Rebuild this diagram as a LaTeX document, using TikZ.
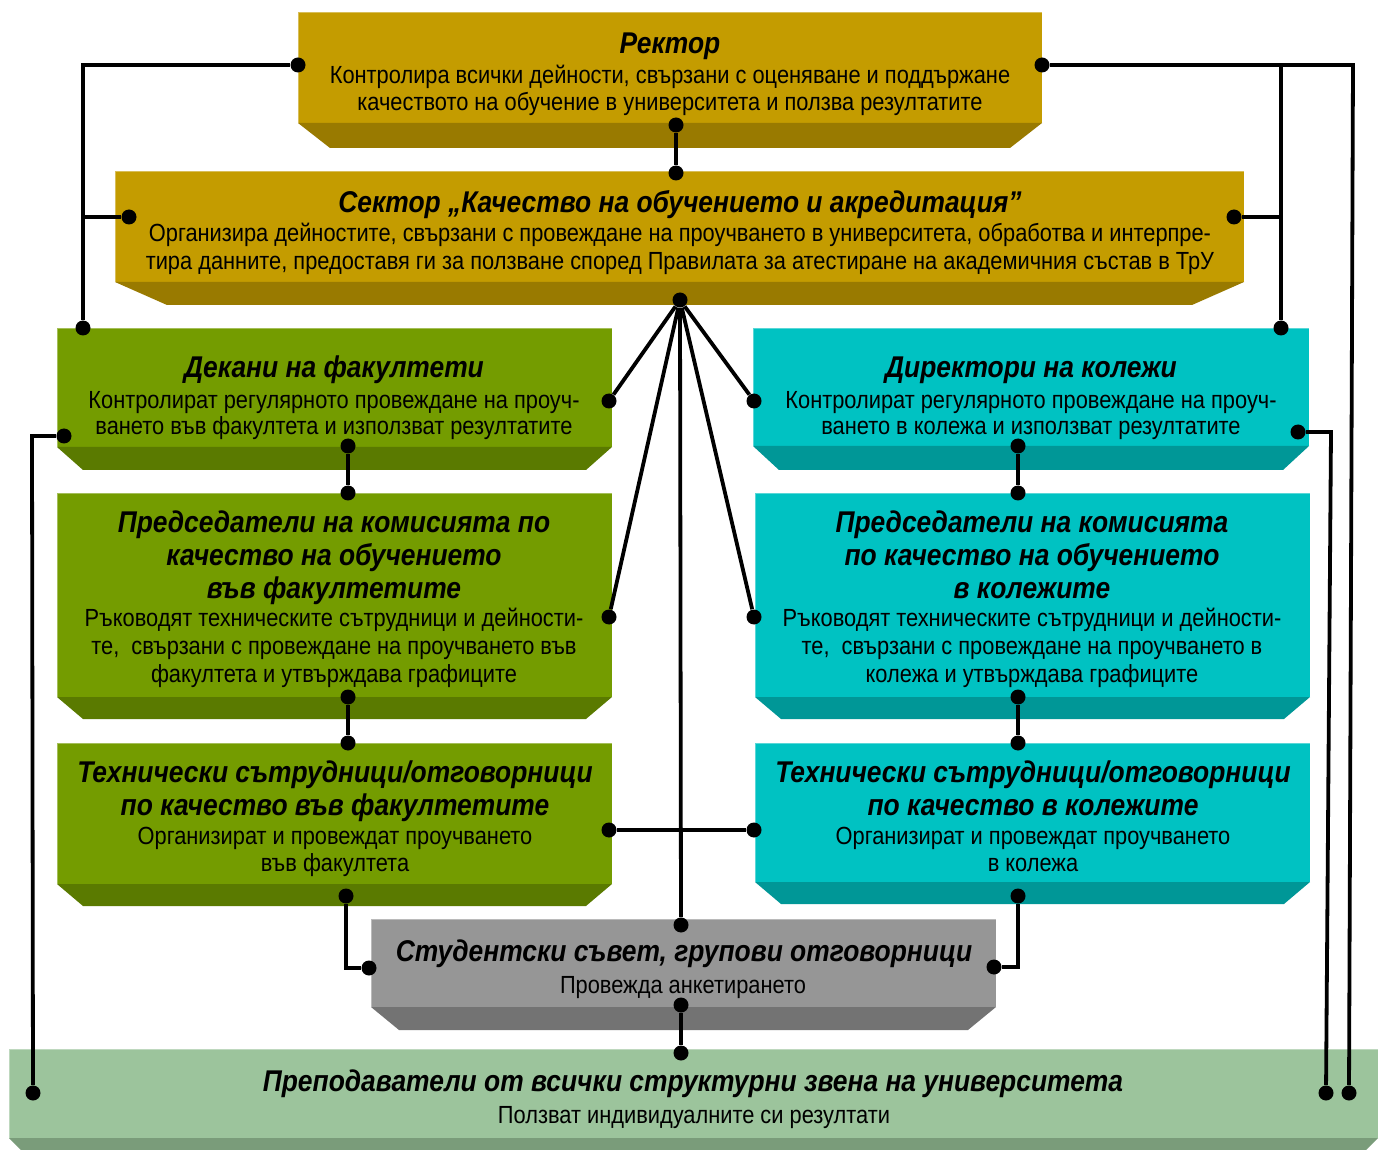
\documentclass[tikz,border=0pt]{standalone}
\usepackage{fontspec}
\setmainfont{Liberation Sans}[FakeStretch=0.88]
\definecolor{goldF}{HTML}{C49C00}
\definecolor{goldB}{HTML}{997A00}
\definecolor{grnF}{HTML}{749C00}
\definecolor{grnB}{HTML}{5A7A00}
\definecolor{cyF}{HTML}{00C2C2}
\definecolor{cyB}{HTML}{009797}
\definecolor{gryF}{HTML}{969696}
\definecolor{gryB}{HTML}{737373}
\definecolor{tchF}{HTML}{9CC49C}
\definecolor{tchB}{HTML}{7A9C7A}
\newcommand{\bevbox}[8]{%
  \fill[#1] (#3,#5) rectangle (#4,#6);
  \fill[#2] (#3,#6) -- (#4,#6) -- (#4-#8,#7) -- (#3+#8,#7) -- cycle;
  \draw[white,opacity=0.35,line width=0.8pt] (#3,#6) -- (#3,#5) -- (#4,#5);}
\begin{document}
\begin{tikzpicture}[x=0.5pt,y=-0.5pt,
  ttl/.style={font=\bfseries\itshape\fontsize{15}{17}\selectfont, anchor=base, inner sep=0pt, yshift=-1pt},
  bdy/.style={font=\fontsize{12.4}{14}\selectfont, anchor=base, inner sep=0pt, yshift=-1pt},
  dot/.style={circle, fill=black, inner sep=0pt, minimum size=7.5pt},
  conn/.style={draw=black, line width=1.9pt}]
\useasboundingbox (0,0) rectangle (1383,1150);
\fill[white] (0,0) rectangle (1383,1150);
% boxes
\bevbox{goldF}{goldB}{298}{1042}{12}{123}{148}{32}
\bevbox{goldF}{goldB}{115}{1244}{171}{282}{305}{52}
\bevbox{grnF}{grnB}{57}{612}{328}{447}{470}{26}
\bevbox{grnF}{grnB}{57}{612}{493}{697}{719}{26}
\bevbox{grnF}{grnB}{57}{612}{743}{884}{906}{26}
\bevbox{cyF}{cyB}{753}{1309}{328}{446}{470}{26}
\bevbox{cyF}{cyB}{755}{1310}{493}{697}{719}{26}
\bevbox{cyF}{cyB}{755}{1310}{743}{882}{904}{26}
\bevbox{gryF}{gryB}{371}{996}{919}{1007}{1030}{28}
\bevbox{tchF}{tchB}{9}{1378}{1049}{1138}{1152}{14}
% dots
\node[dot] (rL) at (298,65) {};
\node[dot] (rR) at (1042,65) {};
\node[dot] (rB) at (676,125) {};
\node[dot] (sT) at (676,173) {};
\node[dot] (sL) at (129,217) {};
\node[dot] (sR) at (1234,217) {};
\node[dot] (sB) at (680,300) {};
\node[dot] (dT) at (83,328) {};
\node[dot] (dR) at (609,401) {};
\node[dot] (dL) at (64,436) {};
\node[dot] (dB) at (348,446) {};
\node[dot] (cfT) at (348,493) {};
\node[dot] (cfR) at (609,617) {};
\node[dot] (cfB) at (348,697) {};
\node[dot] (tfT) at (348,743) {};
\node[dot] (tfR) at (609,830) {};
\node[dot] (tfB) at (346,896) {};
\node[dot] (drT) at (1281,328) {};
\node[dot] (drL) at (754,401) {};
\node[dot] (drR) at (1298,432) {};
\node[dot] (drB) at (1018,446) {};
\node[dot] (ccT) at (1018,493) {};
\node[dot] (ccL) at (754,617) {};
\node[dot] (ccB) at (1018,697) {};
\node[dot] (tcT) at (1018,743) {};
\node[dot] (tcL) at (754,830) {};
\node[dot] (tcB) at (1018,896) {};
\node[dot] (stT) at (681,925) {};
\node[dot] (stL) at (369,968) {};
\node[dot] (stR) at (994,967) {};
\node[dot] (stB) at (681,1005) {};
\node[dot] (tT) at (681,1053) {};
\node[dot] (tL) at (33,1093) {};
\node[dot] (tR1) at (1326,1093) {};
\node[dot] (tR2) at (1349,1093) {};
\coordinate (jL) at (83,217);
\coordinate (cR) at (1353,65);
\coordinate (jR1) at (1281,65);
\coordinate (jR2) at (1281,217);
\coordinate (cD) at (1331,432);
\coordinate (cL) at (32,436);
% connectors
\draw[conn] (rL) -| (dT);
\draw[conn] (sL) -- (jL);
\draw[conn] (rR) -- (cR) -- (tR2);
\draw[conn] (jR1) -- (drT);
\draw[conn] (sR) -- (jR2);
\draw[conn] (drR) -- (cD) -- (tR1);
\draw[conn] (dL) -- (cL) -- (tL);
\draw[conn] (rB) -- (sT);
\draw[conn] (sB) -- (dR);
\draw[conn] (sB) -- (cfR);
\draw[conn] (sB) -- (drL);
\draw[conn] (sB) -- (ccL);
\draw[conn] (sB) -- (stT);
\draw[conn] (dB) -- (cfT);
\draw[conn] (cfB) -- (tfT);
\draw[conn] (drB) -- (ccT);
\draw[conn] (ccB) -- (tcT);
\draw[conn] (tfR) -- (tcL);
\draw[conn] (tfB) |- (stL);
\draw[conn] (stR) -| (tcB);
\draw[conn] (stB) -- (tT);
% texts
\node[ttl] (rt) at (670,52) {Ректор};
\node[bdy] (rb1) at (670,82) {Контролира всички дейности, свързани с оценяване и поддържане};
\node[bdy] (rb2) at (670,109) {качеството на обучение в университета и ползва резултатите};
\node[ttl] (st) at (680,211) {Сектор „Качество на обучението и акредитация”};
\node[bdy] (sb1) at (680,240) {Организира дейностите, свързани с провеждане на проучването в университета, обработва и интерпре-};
\node[bdy] (sb2) at (680,268) {тира данните, предоставя ги за ползване според Правилата за атестиране на академичния състав в ТрУ};
\node[ttl] (dt) at (334,376) {Декани на факултети};
\node[bdy] (db1) at (334,407) {Контролират регулярното провеждане на проуч-};
\node[bdy] (db2) at (334,433) {ването във факултета и използват резултатите};
\node[ttl] (cft1) at (334,530) {Председатели на комисията по};
\node[ttl] (cft2) at (334,563) {качество на обучението};
\node[ttl] (cft3) at (334,596) {във факултетите};
\node[bdy] (cfb1) at (334,624) {Ръководят техническите сътрудници и дейности-};
\node[bdy] (cfb2) at (334,652) {те,\ \ свързани с провеждане на проучването във};
\node[bdy] (cfb3) at (334,680) {факултета и утвърждава графиците};
\node[ttl] (tft1) at (335,780) {Технически сътрудници/отговорници};
\node[ttl] (tft2) at (335,813) {по качество във факултетите};
\node[bdy] (tfb1) at (335,842) {Организират и провеждат проучването};
\node[bdy] (tfb2) at (335,869) {във факултета};
\node[ttl] (drt) at (1031,376) {Директори на колежи};
\node[bdy] (drb1) at (1031,407) {Контролират регулярното провеждане на проуч-};
\node[bdy] (drb2) at (1031,433) {ването в колежа и използват резултатите};
\node[ttl] (cct1) at (1032,530) {Председатели на комисията};
\node[ttl] (cct2) at (1032,563) {по качество на обучението};
\node[ttl] (cct3) at (1032,596) {в колежите};
\node[bdy] (ccb1) at (1032,624) {Ръководят техническите сътрудници и дейности-};
\node[bdy] (ccb2) at (1032,652) {те,\ \ свързани с провеждане на проучването в};
\node[bdy] (ccb3) at (1032,680) {колежа и утвърждава графиците};
\node[ttl] (tct1) at (1033,780) {Технически сътрудници/отговорници};
\node[ttl] (tct2) at (1033,813) {по качество в колежите};
\node[bdy] (tcb1) at (1033,842) {Организират и провеждат проучването};
\node[bdy] (tcb2) at (1033,869) {в колежа};
\node[ttl] (stt) at (684,959) {Студентски съвет, групови отговорници};
\node[bdy] (stb) at (683,991) {Провежда анкетирането};
\node[ttl] (tt) at (693,1089) {Преподаватели от всички структурни звена на университета};
\node[bdy] (tb) at (694,1121) {Ползват индивидуалните си резултати};
\end{tikzpicture}
\end{document}
